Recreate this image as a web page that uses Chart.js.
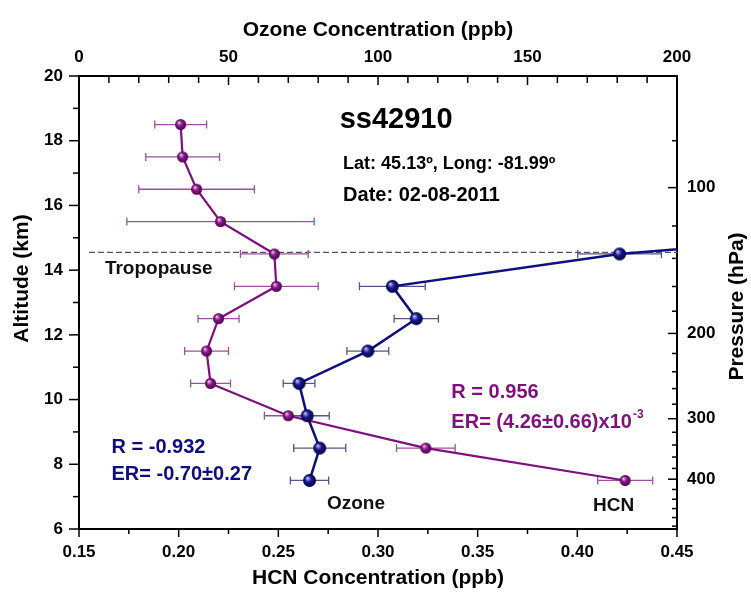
<!DOCTYPE html>
<html>
<head>
<meta charset="utf-8">
<script src="https://cdn.jsdelivr.net/npm/chart.js@4.4.0/dist/chart.umd.min.js"></script>
<style>
  html, body { margin: 0; padding: 0; background: #fff; }
  #wrap { width: 751px; height: 599px; }
</style>
</head>
<body>
<div id="wrap"><canvas id="chart" width="751" height="599"></canvas></div>
<script>
// HCN profile (bottom axis, ppb) vs altitude (km)
const hcnAltitude = [18.5, 17.5, 16.5, 15.5, 14.5, 13.5, 12.5, 11.5, 10.5, 9.5, 8.5, 7.5];
const hcnValues = [0.201, 0.202, 0.209, 0.221, 0.248, 0.249, 0.220, 0.214, 0.216, 0.255, 0.324, 0.424];
const hcnErrors = [0.013, 0.0185, 0.029, 0.047, 0.017, 0.021, 0.0103, 0.011, 0.010, 0.012, 0.0147, 0.0138];

// Ozone profile (top axis, ppb); the 15.5 km point lies off the chart
const ozoneAltitude = [15.5, 14.5, 13.5, 12.5, 11.5, 10.5, 9.5, 8.5, 7.5];
const ozoneValues = [310, 180.8, 104.8, 112.8, 96.6, 73.6, 76.3, 80.5, 77.1];
const ozoneErrors = [null, 14, 11, 7.4, 7, 5.3, 7.4, 8.7, 6.4];

// axis ticks
const hcnTicks = [0.15, 0.20, 0.25, 0.30, 0.35, 0.40, 0.45];
const ozoneTicks = [0, 50, 100, 150, 200];
const altitudeTicks = [6, 8, 10, 12, 14, 16, 18, 20];
const pressureTicks = [80, 100, 120, 140, 160, 180, 200, 220, 240, 260, 280, 300, 320, 340, 360, 380, 400, 420, 440, 460, 480, 500];
const pressureLabels = [100, 200, 300, 400];

const tropopauseAltitude = 14.55;
// pressure axis: 100 hPa at 16.55 km, scale height 6.5 km
const altitudeOfPressure = p => 16.55 - 6.5 * Math.log(p / 100);

const FAMILY = "'Liberation Sans', Arial, sans-serif";
const PURPLE = '#7f0f7f';
const NAVY = '#0e0e80';

function ballImage(radius, light, base, dark) {
    const size = Math.ceil(radius * 2) + 2;
    const c = document.createElement('canvas');
    c.width = c.height = size;
    const g = c.getContext('2d');
    const m = size / 2;
    const grad = g.createRadialGradient(m - radius * 0.35, m - radius * 0.4, radius * 0.05, m, m, radius);
    grad.addColorStop(0, light);
    grad.addColorStop(0.45, base);
    grad.addColorStop(1, dark);
    g.fillStyle = grad;
    g.beginPath();
    g.arc(m, m, radius, 0, Math.PI * 2);
    g.fill();
    return c;
}

const purpleBall = ballImage(5.5, '#f0c8f0', '#8a1a8a', '#4a004a');
const navyBall = ballImage(6.5, '#c8c8f4', '#1a1a90', '#000040');

function toPoints(xs, ys) {
    return xs.map((v, i) => ({ x: v, y: ys[i] }));
}

// horizontal error bars and the tropopause line, under the lines
const errorBars = {
    id: 'errorBars',
    beforeDatasetsDraw(chart) {
        const { ctx, chartArea: a, scales } = chart;
        ctx.save();
        ctx.beginPath();
        ctx.rect(a.left, a.top, a.right - a.left, a.bottom - a.top);
        ctx.clip();

        // tropopause
        const ty = scales.y.getPixelForValue(tropopauseAltitude);
        ctx.strokeStyle = '#555';
        ctx.lineWidth = 1.3;
        ctx.setLineDash([6, 3]);
        ctx.beginPath();
        ctx.moveTo(scales.x.getPixelForValue(0.155), ty);
        ctx.lineTo(a.right, ty);
        ctx.stroke();
        ctx.setLineDash([]);

        const draw = (xScale, vals, errs, alts, color) => {
            ctx.strokeStyle = color;
            ctx.lineWidth = 1.3;
            vals.forEach((v, i) => {
                if (errs[i] == null) return;
                const y = scales.y.getPixelForValue(alts[i]);
                const x0 = xScale.getPixelForValue(v - errs[i]);
                const x1 = xScale.getPixelForValue(v + errs[i]);
                ctx.beginPath();
                ctx.moveTo(x0, y); ctx.lineTo(x1, y);
                ctx.moveTo(x0, y - 4); ctx.lineTo(x0, y + 4);
                ctx.moveTo(x1, y - 4); ctx.lineTo(x1, y + 4);
                ctx.stroke();
            });
        };
        draw(scales.x, hcnValues, hcnErrors, hcnAltitude, '#9c509c');
        draw(scales.x2, ozoneValues, ozoneErrors, ozoneAltitude, '#55558f');
        ctx.restore();
    }
};

// tick marks: bottom/left point outward, top/right point inward
const tickMarks = {
    id: 'tickMarks',
    afterDraw(chart) {
        const { ctx, chartArea: a, scales } = chart;
        ctx.save();
        ctx.strokeStyle = '#000';
        ctx.lineWidth = 1.5;
        const hmarks = (scale, values, y, len) => {
            values.forEach(v => {
                const x = scale.getPixelForValue(v);
                ctx.beginPath(); ctx.moveTo(x, y); ctx.lineTo(x, y + len); ctx.stroke();
            });
        };
        const vmarks = (scale, values, x, len) => {
            values.forEach(v => {
                const y = scale.getPixelForValue(v);
                ctx.beginPath(); ctx.moveTo(x, y); ctx.lineTo(x + len, y); ctx.stroke();
            });
        };
        const hcnMinor = hcnTicks.slice(1).map((v, i) => (v + hcnTicks[i]) / 2);
        const ozoneMinor = [];
        for (let v = 10; v < 200; v += 10) if (v % 50 !== 0) ozoneMinor.push(v);
        const altMinor = altitudeTicks.slice(1).map(v => v - 1);
        const presMajor = pressureLabels.map(altitudeOfPressure);
        const presMinor = pressureTicks.filter(p => !pressureLabels.includes(p)).map(altitudeOfPressure);

        hmarks(scales.x, hcnTicks, a.bottom, 8);
        hmarks(scales.x, hcnMinor, a.bottom, 5);
        hmarks(scales.x2, ozoneTicks, a.top, 9);
        hmarks(scales.x2, ozoneMinor, a.top, 7);
        vmarks(scales.y, altitudeTicks, a.left, -10);
        vmarks(scales.y, altMinor, a.left, -6);
        vmarks(scales.y2, presMajor, a.right, -9);
        vmarks(scales.y2, presMinor, a.right, -5);

        // vertical axis titles, both reading upwards
        ctx.fillStyle = '#000';
        ctx.font = 'bold 21px ' + FAMILY;
        ctx.textAlign = 'center';
        ctx.textBaseline = 'middle';
        const upright = (text, x, y) => {
            ctx.save();
            ctx.translate(x, y);
            ctx.rotate(-Math.PI / 2);
            ctx.fillText(text, 0, 0);
            ctx.restore();
        };
        upright('Pressure (hPa)', 737, (a.top + a.bottom) / 2 + 4);
        upright('Altitude (km)', 22, (a.top + a.bottom) / 2 - 24);
        ctx.restore();
    }
};

// text annotations anchored on the HCN / altitude scales
const annotations = {
    id: 'annotations',
    afterDatasetsDraw(chart) {
        const { ctx, scales } = chart;
        ctx.save();
        ctx.textAlign = 'left';
        ctx.textBaseline = 'middle';
        const put = (text, hcn, alt, font, color) => {
            ctx.font = font + ' ' + FAMILY;
            ctx.fillStyle = color;
            const x = scales.x.getPixelForValue(hcn);
            const y = scales.y.getPixelForValue(alt);
            ctx.fillText(text, x, y);
            return { x: x + ctx.measureText(text).width, y };
        };
        put('ss42910', 0.2808, 18.63, 'bold 29px', '#000');
        put('Lat: 45.13\u00ba, Long: -81.99\u00ba', 0.2825, 17.27, 'bold 18px', '#000');
        put('Date: 02-08-2011', 0.2825, 16.32, 'bold 20px', '#000');
        put('Tropopause', 0.163, 14.05, 'bold 19px', '#111');

        put('R = 0.956', 0.3368, 10.21, 'bold 20px', PURPLE);
        const end = put('ER= (4.26\u00b10.66)x10', 0.3368, 9.29, 'bold 20px', PURPLE);
        ctx.font = 'bold 12px ' + FAMILY;
        ctx.fillText('-3', end.x + 1, end.y - 8);

        put('R = -0.932', 0.1663, 8.51, 'bold 20px', NAVY);
        put('ER= -0.70\u00b10.27', 0.1663, 7.69, 'bold 20px', NAVY);

        put('Ozone', 0.2744, 6.79, 'bold 19px', '#111');
        put('HCN', 0.4079, 6.73, 'bold 19px', '#111');
        ctx.restore();
    }
};

const tickFont = { family: FAMILY, size: 17, weight: 'bold' };
const titleFont = { family: FAMILY, size: 21, weight: 'bold' };
const noGrid = { display: false, drawTicks: false };
const frame = { display: true, color: '#000', width: 2 };

new Chart(document.getElementById('chart'), {
    type: 'scatter',
    data: {
        datasets: [
            {
                label: 'Ozone',
                data: toPoints(ozoneValues, ozoneAltitude),
                xAxisID: 'x2',
                yAxisID: 'y',
                showLine: true,
                borderColor: NAVY,
                borderWidth: 2.5,
                pointStyle: navyBall,
                pointRadius: 6.5
            },
            {
                label: 'HCN',
                data: toPoints(hcnValues, hcnAltitude),
                xAxisID: 'x',
                yAxisID: 'y',
                showLine: true,
                borderColor: PURPLE,
                borderWidth: 2.2,
                pointStyle: purpleBall,
                pointRadius: 5.5
            }
        ]
    },
    options: {
        responsive: false,
        animation: false,
        devicePixelRatio: 1,
        events: [],
        layout: { padding: 0 },
        plugins: { legend: { display: false }, tooltip: { enabled: false } },
        scales: {
            x: {
                type: 'linear', position: 'bottom', min: 0.15, max: 0.45,
                afterBuildTicks: s => { s.ticks = hcnTicks.map(v => ({ value: v })); },
                afterFit: s => { s.height = 70; },
                ticks: { font: tickFont, color: '#000', padding: 13, autoSkip: false, maxRotation: 0,
                         callback: v => v.toFixed(2) },
                grid: noGrid, border: frame,
                title: { display: true, text: 'HCN Concentration (ppb)', font: titleFont, color: '#000',
                         padding: { top: 0, bottom: 8 } }
            },
            x2: {
                type: 'linear', position: 'top', min: 0, max: 200,
                afterBuildTicks: s => { s.ticks = ozoneTicks.map(v => ({ value: v })); },
                afterFit: s => { s.height = 76; },
                ticks: { font: tickFont, color: '#000', padding: 8, autoSkip: false, maxRotation: 0 },
                grid: noGrid, border: frame,
                title: { display: true, text: 'Ozone Concentration (ppb)', font: titleFont, color: '#000',
                         padding: { top: 18, bottom: 0 } }
            },
            y: {
                type: 'linear', position: 'left', min: 6, max: 20,
                afterBuildTicks: s => { s.ticks = altitudeTicks.map(v => ({ value: v })); },
                afterFit: s => { s.width = 79; },
                ticks: { font: tickFont, color: '#000', padding: 16, autoSkip: false },
                grid: noGrid, border: frame
            },
            y2: {
                type: 'linear', position: 'right', min: 6, max: 20,
                afterBuildTicks: s => { s.ticks = pressureTicks.map(p => ({ value: altitudeOfPressure(p) })); },
                afterFit: s => { s.width = 74; },
                ticks: { font: tickFont, color: '#000', padding: 10, autoSkip: false,
                         callback: (v, i) => pressureLabels.includes(pressureTicks[i]) ? String(pressureTicks[i]) : '' },
                grid: noGrid, border: frame
            }
        }
    },
    plugins: [errorBars, annotations, tickMarks]
});
</script>
</body>
</html>
